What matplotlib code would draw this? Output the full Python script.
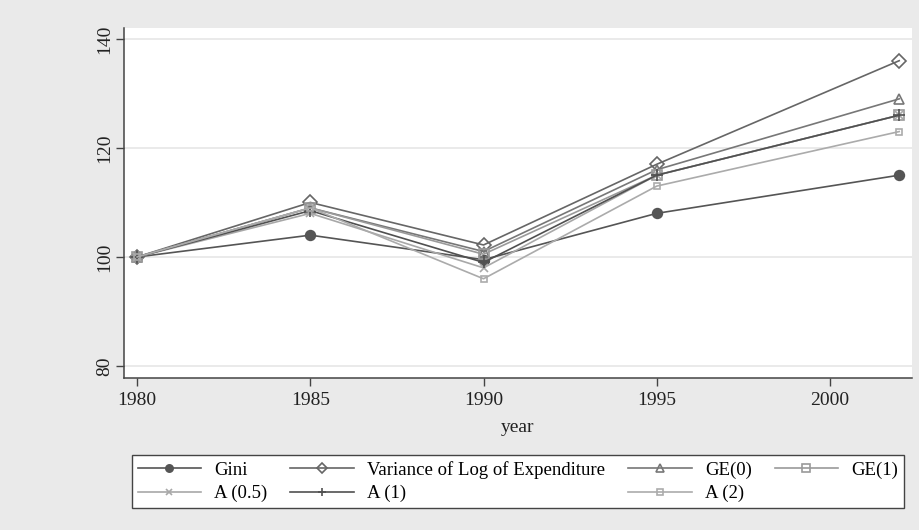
import matplotlib.pyplot as plt
from matplotlib.ticker import FixedLocator

# data (index, 1980 = 100)
years = [1980, 1985, 1990, 1995, 2002]
gini = [100, 104, 99.5, 108, 115]
var_log = [100, 110, 102.2, 117, 136]
ge0 = [100, 109, 101, 116, 129]
ge1 = [100, 109, 100.5, 115, 126]
a05 = [100, 108, 98, 115, 126]
a1 = [100, 108.5, 99, 115, 126]
a2 = [100, 109, 96, 113, 123]

labels = ['Gini', 'Variance of Log of Expenditure', 'GE(0)', 'GE(1)',
          'A (0.5)', 'A (1)', 'A (2)']
series = [gini, var_log, ge0, ge1, a05, a1, a2]
colors = ['#555555', '#666666', '#777777', '#9a9a9a', '#a8a8a8', '#505050', '#ababab']
markers = ['o', 'D', '^', 's', 'x', '+', 's']
filled = [True, False, False, False, True, True, False]
msizes = [7, 7, 7, 7, 6, 8, 5]

plt.rcParams['font.family'] = ['Liberation Serif', 'DejaVu Serif']
bg = '#eaeaea'

fig = plt.figure(figsize=(9.19, 5.30), dpi=100, facecolor=bg)
ax = fig.add_axes([0.1349, 0.2868, 0.8575, 0.6604])
ax.set_facecolor('white')

lines = []
for vals, lab, c, m, f, ms in zip(series, labels, colors, markers, filled, msizes):
    ln, = ax.plot(years, vals, color=c, lw=1.2, marker=m, ms=ms, label=lab,
                  markerfacecolor=c if f else 'none', markeredgecolor=c,
                  markeredgewidth=1.2)
    lines.append(ln)

ax.set_xlim(1979.62, 2002.37)
ax.set_ylim(77.8, 142)
ax.xaxis.set_major_locator(FixedLocator([1980, 1985, 1990, 1995, 2000]))
ax.yaxis.set_major_locator(FixedLocator([80, 100, 120, 140]))
ax.yaxis.grid(True, color='#e6e6e6', lw=1.2)
ax.set_axisbelow(True)

for side in ['top', 'right']:
    ax.spines[side].set_visible(False)
for side in ['left', 'bottom']:
    ax.spines[side].set_color('#444444')
    ax.spines[side].set_linewidth(1.1)

ax.tick_params(axis='both', length=6, width=1, color='#444444',
               labelsize=14, labelcolor='#222222', pad=4)
ax.tick_params(axis='y', pad=2)
plt.setp(ax.get_yticklabels(), rotation=90, va='center')
ax.set_xlabel('year', fontsize=14, color='#222222', labelpad=7)

# legend is filled column by column, so order the entries to read row by row
order = [0, 4, 1, 5, 2, 6, 3]
leg = ax.legend([lines[i] for i in order], [labels[i] for i in order],
                loc='center', bbox_to_anchor=(0.1436, 0.0358, 0.840, 0.111),
                bbox_transform=fig.transFigure, mode='expand', ncol=4,
                fontsize=13.5, frameon=True, fancybox=False, handlelength=3.4,
                handletextpad=0.7, borderpad=0.3, labelspacing=0.33,
                borderaxespad=0, markerscale=0.75)
leg.get_frame().set_edgecolor('#444444')
leg.get_frame().set_linewidth(1.0)
leg.get_frame().set_facecolor('white')
leg.get_frame().set_alpha(1)

fig.savefig('out.png', dpi=100, facecolor=bg)
